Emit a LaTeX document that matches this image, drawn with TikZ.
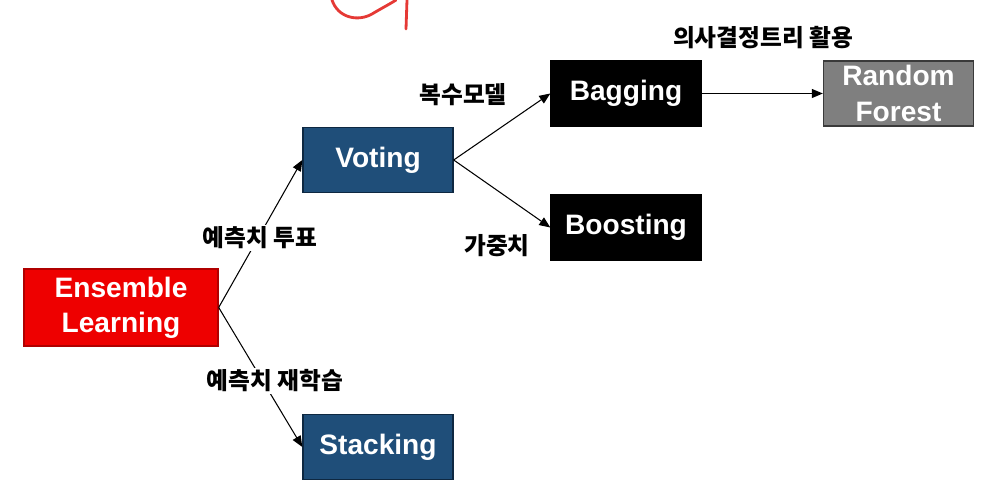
\documentclass[tikz,border=0pt]{standalone}
\usepackage{fontspec}
\setmainfont{Liberation Sans}
\newfontfamily\kr{Noto Sans CJK KR}
\usetikzlibrary{arrows.meta,positioning}
\definecolor{cR}{HTML}{EE0000}
\definecolor{cRd}{HTML}{B00000}
\definecolor{cB}{HTML}{1F4E79}
\definecolor{cBd}{HTML}{0E2841}
\definecolor{cG}{HTML}{7F7F7F}
\definecolor{cGd}{HTML}{3A3A3A}
\definecolor{cS}{HTML}{E53935}
\tikzset{
  blk/.style={draw,line width=0.8pt,minimum width=3cm,minimum height=1.3cm,
              inner sep=0pt,text=white,align=center,
              font=\bfseries\fontsize{16}{20}\selectfont},
  ens/.style={blk,fill=cR,draw=cRd,minimum width=3.88cm,minimum height=1.54cm},
  algo/.style={blk,fill=cB,draw=cBd},
  meta/.style={blk,fill=black,draw=black},
  rf/.style={blk,fill=cG,draw=cGd},
  arr/.style={-{Triangle[length=2.2mm,width=1.8mm]},semithick},
  lbl/.style={fill=white,inner sep=1pt,
              font=\kr\bfseries\fontsize{13.5}{15}\selectfont},
  pen/.style={cS,line width=1.6pt,line cap=round},
}

\begin{document}
\begin{tikzpicture}[x=0.02cm,y=-0.02cm]
  \useasboundingbox (0,0) rectangle (1000,492);
  % pen mark at the top
  \draw[pen] (332,0) .. controls (338,18) and (358,22) .. (372,14)
                     .. controls (382,8) and (390,4) .. (396,0);
  \draw[pen] (407,0) -- (406,29);

  \node[ens]  (ens) at (121,307.5) {Ensemble\\Learning};
  \node[algo] (vot) at (378,160)   {Voting};
  \node[algo] (stk) at (378,447)   {Stacking};
  \node[meta] (bag) at (626,93.5)  {Bagging};
  \node[meta] (bst) at (626,227.5) {Boosting};
  \node[rf]   (rnd) at (898.5,93.5) {Random\\Forest};

  \draw[arr] (ens.east) -- (vot.west);
  \draw[arr] (ens.east) -- (stk.west);
  \draw[arr] (vot.east) -- (bag.west);
  \draw[arr] (vot.east) -- (bst.west);
  \draw[arr] (bag) -- (rnd);

  \node[lbl] (tvote)   at (260,238) {예측치 투표};
  \node[lbl] (tstack)  at (275,381) {예측치 재학습};
  \node[lbl] (tmulti)  at (463,95)  {복수모델};
  \node[lbl] (tweight) at (497,246) {가중치};
  \node[lbl] (ttree)   at (763,38)  {의사결정트리 활용};
\end{tikzpicture}
\end{document}
